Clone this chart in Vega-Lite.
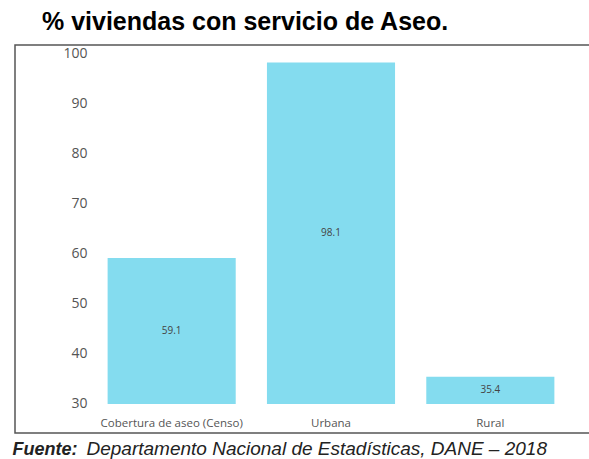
{
  "$schema": "https://vega.github.io/schema/vega-lite/v6.json",
  "autosize": "none",
  "padding": {"left": 15, "top": 45, "right": 0, "bottom": 26},
  "width": 580,
  "height": 388,
  "background": "white",
  "title": {
    "text": "% viviendas con servicio de Aseo.",
    "anchor": "start",
    "dx": 30,
    "dy": 26,
    "offset": 16,
    "baseline": "alphabetic",
    "font": "Liberation Sans",
    "fontSize": 25,
    "fontWeight": "bold",
    "color": "#000000"
  },
  "data": {
    "values": [
      {"cat": "Cobertura de aseo (Censo)", "value": 59.1},
      {"cat": "Urbana", "value": 98.1},
      {"cat": "Rural", "value": 35.4}
    ]
  },
  "transform": [{"calculate": "(datum.value + 30) / 2", "as": "mid"}],
  "layer": [
    {
      "mark": {"type": "bar", "color": "#84DCEF"},
      "encoding": {
        "x": {
          "field": "cat",
          "type": "nominal",
          "sort": null,
          "scale": {"range": [77, 555], "paddingInner": 0.196, "paddingOuter": 0.098},
          "axis": {
            "orient": "bottom",
            "offset": -16,
            "labelAngle": 0,
            "labelPadding": 0,
            "labelBaseline": "top",
            "labelFont": "Open Sans",
            "labelFontSize": 11.5,
            "labelColor": "#555555",
            "ticks": false,
            "domain": false,
            "title": "Fuente:",
            "titleFont": "Liberation Sans",
            "titleFontSize": 18,
            "titleFontWeight": "bold",
            "titleFontStyle": "italic",
            "titleColor": "#222222",
            "titleAlign": "left",
            "titleBaseline": "alphabetic",
            "titleX": -3,
            "titleY": 37
          }
        },
        "y": {
          "field": "value",
          "type": "quantitative",
          "scale": {"domain": [24.2, 101.6], "nice": false, "zero": false},
          "axis": {
            "values": [30, 40, 50, 60, 70, 80, 90, 100],
            "offset": -72,
            "labelPadding": 0,
            "labelFont": "Open Sans",
            "labelFontSize": 14,
            "labelColor": "#555555",
            "ticks": false,
            "domain": false,
            "grid": false,
            "title": null
          }
        },
        "y2": {"datum": 30}
      }
    },
    {
      "mark": {"type": "text", "font": "Open Sans", "fontSize": 10, "color": "#444444", "baseline": "middle"},
      "encoding": {
        "x": {
          "field": "cat",
          "type": "nominal",
          "sort": null,
          "scale": {"range": [77, 555], "paddingInner": 0.196, "paddingOuter": 0.098},
          "axis": {
            "orient": "bottom",
            "offset": -16,
            "labels": false,
            "ticks": false,
            "domain": false,
            "title": "Departamento Nacional de Estadísticas, DANE – 2018",
            "titleFont": "Liberation Sans",
            "titleFontSize": 19,
            "titleFontWeight": "normal",
            "titleFontStyle": "italic",
            "titleColor": "#222222",
            "titleAlign": "left",
            "titleBaseline": "alphabetic",
            "titleX": 71,
            "titleY": 37
          }
        },
        "y": {"field": "mid", "type": "quantitative"},
        "text": {"field": "value", "type": "quantitative", "format": ".1f"}
      }
    }
  ],
  "resolve": {"scale": {"x": "independent"}, "axis": {"x": "independent"}},
  "config": {
    "view": {"stroke": "#555555", "strokeWidth": 1.5}
  }
}
